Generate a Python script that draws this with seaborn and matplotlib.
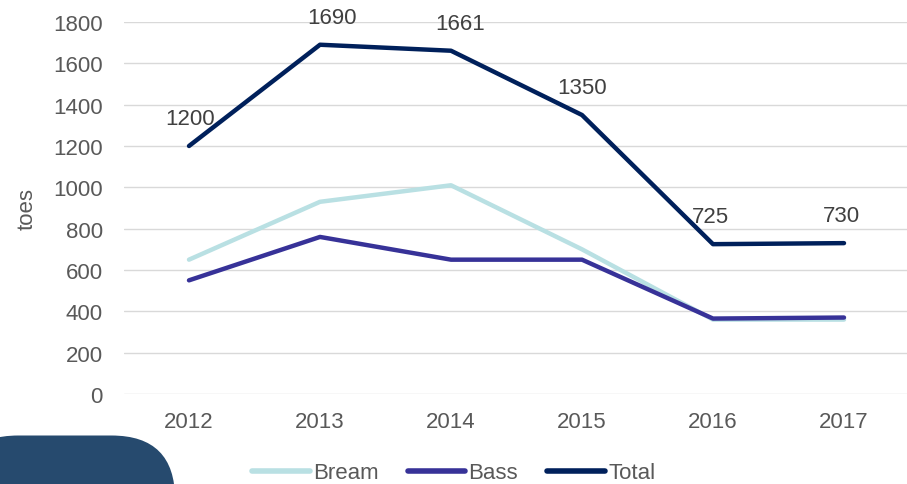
import matplotlib
matplotlib.use("Agg")
import matplotlib.pyplot as plt
import seaborn as sns
import pandas as pd
from matplotlib.patches import FancyBboxPatch

years = ["2012", "2013", "2014", "2015", "2016", "2017"]
bream = [650, 930, 1010, 700, 360, 360]
bass = [550, 760, 650, 650, 365, 370]
total = [1200, 1690, 1661, 1350, 725, 730]
series_names = ["Bream", "Bass", "Total"]
colors = ["#b9e0e3", "#373298", "#00205b"]

df = pd.DataFrame({"Year": years * 3,
                   "Value": bream + bass + total,
                   "Series": [s for s in series_names for _ in years]})

sns.set_theme(style="white")
plt.rcParams["font.family"] = ["Liberation Sans", "DejaVu Sans"]

FS = 16
fig = plt.figure(figsize=(9.07, 4.85), dpi=100)
ax = fig.add_axes([123.5 / 907, 1 - 395 / 485, 786 / 907, 372 / 485])

# decorative shape bottom-left
deco = FancyBboxPatch((-0.05, -0.2), 0.243, 0.3, boxstyle="round,pad=0,rounding_size=0.07",
                      transform=fig.transFigure, facecolor="#264a6e", edgecolor="none",
                      zorder=-1, mutation_aspect=907 / 485)
fig.patches.append(deco)

sns.lineplot(data=df, x="Year", y="Value", hue="Series", palette=colors,
             linewidth=3.2, ax=ax, sort=False, solid_capstyle="round")

ax.set_xlim(-0.5, 5.5)
ax.set_ylim(0, 1800)
ax.set_yticks(range(0, 1801, 200))
ax.yaxis.grid(True, color="#d9d9d9", linewidth=1)
ax.xaxis.grid(False)
for s in ax.spines.values():
    s.set_visible(False)
ax.tick_params(axis="both", colors="#595959", labelsize=FS, length=0)
ax.tick_params(axis="y", pad=15)
ax.tick_params(axis="x", pad=12)
ax.set_xlabel("")
ax.set_ylabel("toes", fontsize=FS, color="#595959", labelpad=11)

label_dx = [1, 12, 9, 0, -3, -3]
for i, v in enumerate(total):
    ax.annotate(str(v), (i, v), xytext=(label_dx[i] * 0.72, 12), textcoords="offset points",
                ha="center", va="bottom", fontsize=FS, color="#404040")

leg = ax.legend(loc="upper center", bbox_to_anchor=(0.42, -0.13), ncol=3, frameon=False,
                fontsize=FS, handlelength=2.6, handletextpad=0.15, columnspacing=1.3)
for t in leg.get_texts():
    t.set_color("#595959")
for l in leg.get_lines():
    l.set_linewidth(4)
    l.set_solid_capstyle("round")

fig.savefig("out.png", dpi=100)
